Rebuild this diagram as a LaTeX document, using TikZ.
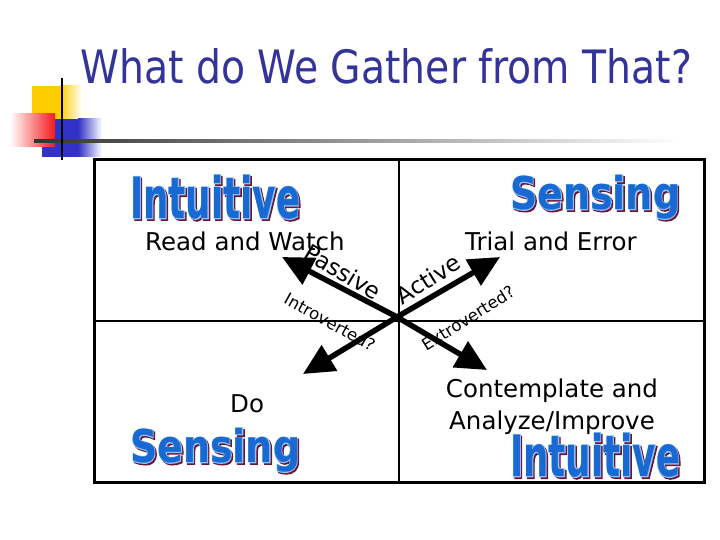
\documentclass[tikz,border=0pt]{standalone}
\usepackage{fontspec}
\setmainfont{DejaVu Sans}
\newfontfamily\artfat{DejaVu Sans}[FakeBold=3.5]
\usepackage{graphicx}
\usetikzlibrary{arrows.meta}

\definecolor{titleblue}{RGB}{51,51,153}
\definecolor{artblue}{RGB}{25,105,210}
\definecolor{artlight}{RGB}{140,195,245}
\definecolor{artshadow}{RGB}{110,20,50}
\definecolor{decoyellow}{RGB}{255,204,0}
\definecolor{decored}{RGB}{245,25,25}
\definecolor{decoblue}{RGB}{50,50,200}

\tikzset{
  art/.style = {anchor=north west, inner sep=0pt},
  lbl/.style = {font=\fontsize{24.5}{28}\selectfont, inner sep=0pt},
  tilt/.style = {font=\fontsize{23}{26}\selectfont, inner sep=0pt},
  tiltsmall/.style = {font=\fontsize{16.5}{19}\selectfont, inner sep=0pt},
  arr/.style = {line width=5.5pt, -{Triangle[length=31pt,width=29pt]}}
}

% WordArt-like word: shadow, light outline, blue body
\newcommand{\artword}[2][]{\resizebox*{170pt}{44pt}{#1\bfseries #2}}
\newcommand{\wordart}[3]{%
  \node[art, text=artshadow, xshift=1.4pt, yshift=-1.6pt] (#1s) at (#2) {\artword[\artfat]{#3}};
  \node[art, text=artlight] (#1o) at (#2) {\artword[\artfat]{#3}};
  \node[art, text=artblue] (#1) at (#2) {\artword{#3}};
}

\begin{document}
\begin{tikzpicture}[x=1pt,y=-1pt]
  \useasboundingbox (0,0) rectangle (720,540);

  % corner decoration
  \fill[decoyellow] (32,86) rectangle (60,134);
  \shade[left color=decoyellow, right color=white] (60,86) rectangle (82,134);
  \fill[decoblue] (42,119) rectangle (78,157);
  \shade[left color=decoblue, right color=white] (78,119) rectangle (102,157);
  \shade[left color=white, right color=decored] (10,114) rectangle (55,147);
  \shade[left color=black!80, right color=white] (34,140) rectangle (680,143);
  \draw[line width=2.5pt] (62,78) -- (62,160);

  % title
  \node[anchor=base west, inner sep=0pt, text=titleblue,
        font=\fontsize{46}{50}\selectfont] (title) at (80,84)
        {\scalebox{0.855}[1]{What do We Gather from That?}};

  % the grid
  \node[rectangle,
        draw,
        line width = 3pt,
        minimum width = 610pt,
        minimum height = 322pt] (grid) at (399,321) {};
  \draw[line width=2pt] (grid.north) -- (grid.south);
  \draw[line width=2pt] (grid.west) -- (grid.east);

  % quadrant words
  \wordart{intuitiveTop}{130,175}{Intuitive}
  \wordart{sensingTop}{510,175}{Sensing}
  \wordart{sensingBottom}{130,428}{Sensing}
  \wordart{intuitiveBottom}{510,433}{Intuitive}

  \node[lbl, anchor=base west] (read) at (145,251) {Read and Watch};
  \node[lbl, anchor=base west] (trial) at (465,251) {Trial and Error};
  \node[lbl, anchor=base west] (do) at (230,412) {Do};
  \node[lbl, anchor=base] (contemplate) at (552,397) {Contemplate and};
  \node[lbl, anchor=base] (analyze) at (552,429) {Analyze/Improve};

  % labels along the arrows
  \node[tilt, rotate=-31] (passive) at (343,272) {Passive};
  \node[tilt, rotate=32] (active) at (428,279) {Active};
  \node[tiltsmall, rotate=-29] (intro) at (330,322) {Introverted?};
  \node[tiltsmall, rotate=32] (extro) at (468,318) {Extroverted?};

  % arrows
  \coordinate (hub) at (397,317);
  \coordinate (watchEnd) at (282,257);
  \coordinate (trialEnd) at (500,257);
  \coordinate (doEnd) at (303,374);
  \coordinate (thinkEnd) at (487,370);
  \draw[arr] (hub) -- (watchEnd);
  \draw[arr] (hub) -- (trialEnd);
  \draw[arr] (hub) -- (doEnd);
  \draw[arr] (hub) -- (thinkEnd);

\end{tikzpicture}
\end{document}
